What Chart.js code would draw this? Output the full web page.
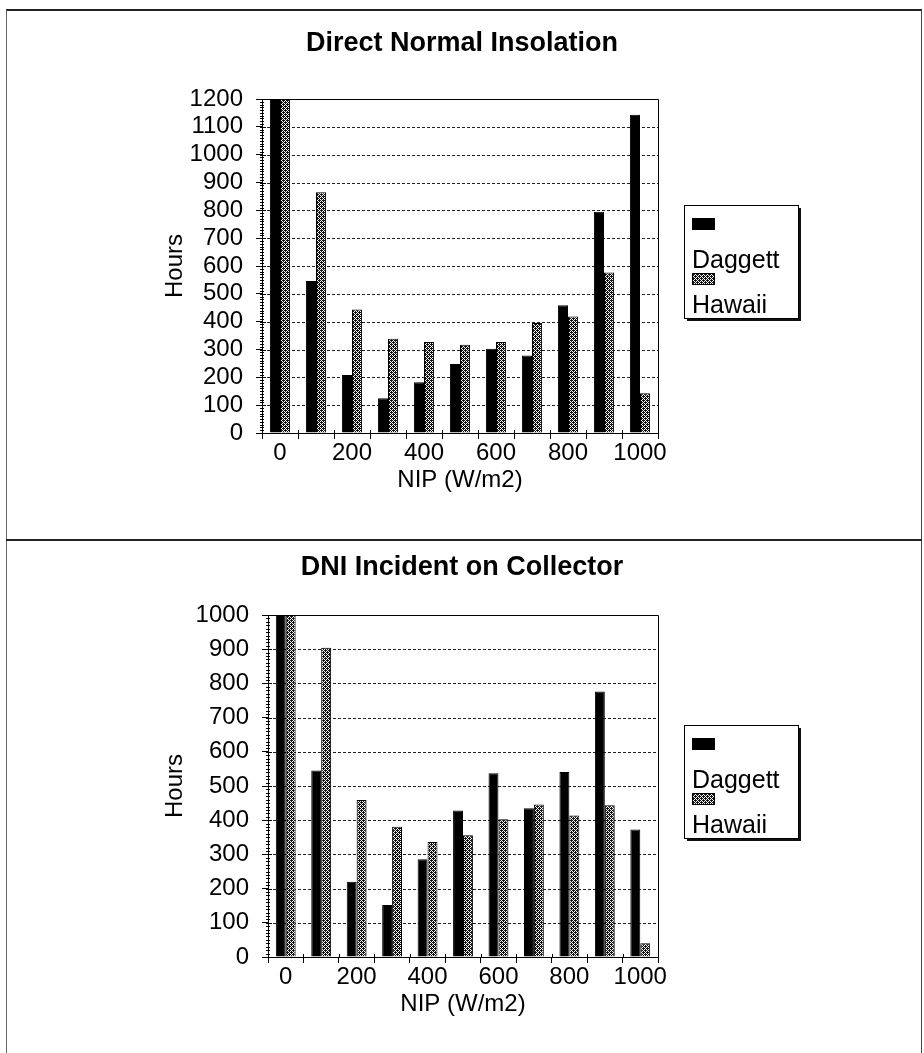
<!DOCTYPE html>
<html>
<head>
<meta charset="utf-8">
<script src="https://cdn.jsdelivr.net/npm/chart.js@4.4.1/dist/chart.umd.min.js"></script>
<style>
  html, body { margin: 0; padding: 0; background: #fff; }
  #page { position: relative; width: 924px; height: 1053px; overflow: hidden; }
  #frame { position: absolute; left: 6px; top: 9px; width: 914px; height: 1060px;
           border-top: 2px solid #222; border-left: 1px solid #666; border-right: 1px solid #444; }
  #divider { position: absolute; left: 6px; top: 539px; width: 916px; border-top: 2px solid #222; }
  canvas { position: absolute; left: 0; }
</style>
</head>
<body>
<div id="page">
  <div id="frame"></div>
  <div id="divider"></div>
  <canvas id="topChart" width="924" height="540" style="top:0"></canvas>
  <canvas id="bottomChart" width="924" height="513" style="top:540px"></canvas>
</div>
<script>
// NIP bins (W/m2), every other one gets a label
const nipLabels = ['0', '100', '200', '300', '400', '500', '600', '700', '800', '900', '1000'];

// Direct Normal Insolation, hours per bin (first bin runs off the scale)
const insolDaggett = [4400, 546, 208, 125, 182, 248, 303, 278, 459, 795, 1143];
const insolHawaii = [4300, 865, 444, 339, 327, 317, 327, 395, 419, 577, 143];

// DNI incident on collector, hours per bin
const collDaggett = [4500, 545, 220, 152, 286, 428, 537, 435, 541, 776, 373];
const collHawaii = [4400, 904, 459, 381, 336, 356, 403, 446, 414, 444, 40];

const seriesNames = ['Daggett', 'Hawaii'];

Chart.defaults.font.family = '"Liberation Sans", Arial, sans-serif';
Chart.defaults.color = '#000';

// grey stipple fill like the old print
const pc = document.createElement('canvas');
pc.width = 4; pc.height = 4;
const pg = pc.getContext('2d');
pg.fillStyle = '#fff';
pg.fillRect(0, 0, 4, 4);
pg.fillStyle = '#111';
[[0,0],[2,0],[1,1],[3,1],[0,2],[2,2],[1,3],[3,3],[3,0],[1,2]].forEach(p => pg.fillRect(p[0], p[1], 1, 1));
const stipple = pg.createPattern(pc, 'repeat');

// dotted grid, plot frame, minor ticks
const axisMarks = {
  id: 'axisMarks',
  beforeDatasetsDraw(chart) {
    const { ctx, chartArea: a, scales: { y } } = chart;
    ctx.save();
    ctx.strokeStyle = '#222';
    ctx.lineWidth = 1;
    ctx.setLineDash([3, 2]);
    y.ticks.forEach(t => {
      if (t.value <= y.min || t.value >= y.max) return;
      const py = Math.round(y.getPixelForValue(t.value)) + 0.5;
      ctx.beginPath();
      ctx.moveTo(a.left, py);
      ctx.lineTo(a.right, py);
      ctx.stroke();
    });
    ctx.restore();
  },
  afterDatasetsDraw(chart) {
    const { ctx, chartArea: a, scales: { x, y } } = chart;
    ctx.save();
    ctx.strokeStyle = '#000';
    ctx.lineWidth = 1;
    ctx.beginPath();
    ctx.moveTo(a.left, a.top + 0.5);
    ctx.lineTo(a.right + 0.5, a.top + 0.5);
    ctx.lineTo(a.right + 0.5, a.bottom);
    for (let v = y.min; v <= y.max; v += 10) {
      const py = Math.round(y.getPixelForValue(v)) + 0.5;
      ctx.moveTo(a.left - 2, py);
      ctx.lineTo(a.left + (v % 100 === 0 ? 4 : 2), py);
    }
    const half = (x.getPixelForValue(1) - x.getPixelForValue(0)) / 2;
    for (let i = 0; i <= nipLabels.length; i++) {
      const px = Math.round(x.getPixelForValue(i) - half) + 0.5;
      ctx.moveTo(px, a.bottom);
      ctx.lineTo(px, a.bottom - 3);
    }
    ctx.stroke();
    ctx.restore();
  }
};

// Excel style legend: swatch on one line, name under it
const boxLegend = {
  id: 'boxLegend',
  afterDraw(chart) {
    const { ctx, chartArea: a } = chart;
    const bw = 114, bh = 113;
    const bx = a.right + 26;
    const by = Math.round((a.top + a.bottom) / 2 - 4.5 - bh / 2);
    const swatchY = [13, 68];
    const textY = [63, 108];
    ctx.save();
    ctx.fillStyle = '#111';
    ctx.fillRect(bx + 3, by + 3, bw, bh);
    ctx.fillStyle = '#fff';
    ctx.fillRect(bx, by, bw, bh);
    ctx.strokeStyle = '#000';
    ctx.lineWidth = 1;
    ctx.strokeRect(bx + 0.5, by + 0.5, bw, bh);
    ctx.font = '25px "Liberation Sans", Arial, sans-serif';
    ctx.textBaseline = 'alphabetic';
    chart.data.datasets.forEach((ds, i) => {
      ctx.fillStyle = ds.backgroundColor;
      ctx.fillRect(bx + 8, by + swatchY[i], 23, 12);
      ctx.strokeRect(bx + 8.5, by + swatchY[i] + 0.5, 22, 11);
      ctx.fillStyle = '#000';
      ctx.fillText(ds.label, bx + 8, by + textY[i]);
    });
    ctx.restore();
  }
};

function makeChart(id, title, daggett, hawaii, yMax, g) {
  return new Chart(document.getElementById(id), {
    type: 'bar',
    data: {
      labels: nipLabels,
      datasets: [
        { label: seriesNames[0], data: daggett, backgroundColor: '#000', borderColor: '#000',
          borderWidth: 1, barPercentage: 1, categoryPercentage: 0.56 },
        { label: seriesNames[1], data: hawaii, backgroundColor: stipple, borderColor: '#000',
          borderWidth: 1, barPercentage: 1, categoryPercentage: 0.56 }
      ]
    },
    options: {
      responsive: false,
      animation: false,
      events: [],
      layout: { padding: g.padding },
      plugins: {
        legend: { display: false },
        tooltip: { enabled: false },
        title: {
          display: true,
          text: title,
          color: '#000',
          font: { size: 27, weight: 'bold' },
          padding: g.titlePadding
        }
      },
      scales: {
        x: {
          grid: { drawOnChartArea: false, tickLength: 6, color: '#000' },
          border: { color: '#000', width: 1 },
          ticks: {
            autoSkip: false, maxRotation: 0, minRotation: 0, padding: 0,
            font: { size: 24 },
            callback: (v, i) => (i % 2 === 0 ? nipLabels[i] : '')
          },
          title: { display: true, text: 'NIP (W/m2)', font: { size: 24 }, padding: { top: 0, bottom: 8.6 } },
          afterFit: s => { s.height = 70; }
        },
        y: {
          min: 0,
          max: yMax,
          grid: { drawOnChartArea: false, tickLength: 6, color: '#000' },
          border: { color: '#000', width: 1 },
          ticks: { stepSize: 100, autoSkip: false, padding: 13, font: { size: 24 }, callback: v => String(v) },
          title: { display: true, text: 'Hours', font: { size: 24 }, padding: { top: 154.6, bottom: 0 } },
          afterFit: s => { s.width = g.yWidth; }
        },
        // empty right-hand box that holds the space for the legend
        side: {
          type: 'linear',
          position: 'right',
          grid: { display: false },
          border: { display: false },
          ticks: { display: false },
          afterFit: s => { s.width = 924 - 6 - 658; }
        }
      }
    },
    plugins: [axisMarks, boxLegend]
  });
}

makeChart('topChart', 'Direct Normal Insolation', insolDaggett, insolHawaii, 1200, {
  padding: { left: 6, right: 6, top: 10, bottom: 37 },
  titlePadding: { top: 17.8, bottom: 38.8 },
  yWidth: 256
});

makeChart('bottomChart', 'DNI Incident on Collector', collDaggett, collHawaii, 1000, {
  padding: { left: 6, right: 6, top: 2, bottom: 26 },
  titlePadding: { top: 9.8, bottom: 30.8 },
  yWidth: 262
});
</script>
</body>
</html>
